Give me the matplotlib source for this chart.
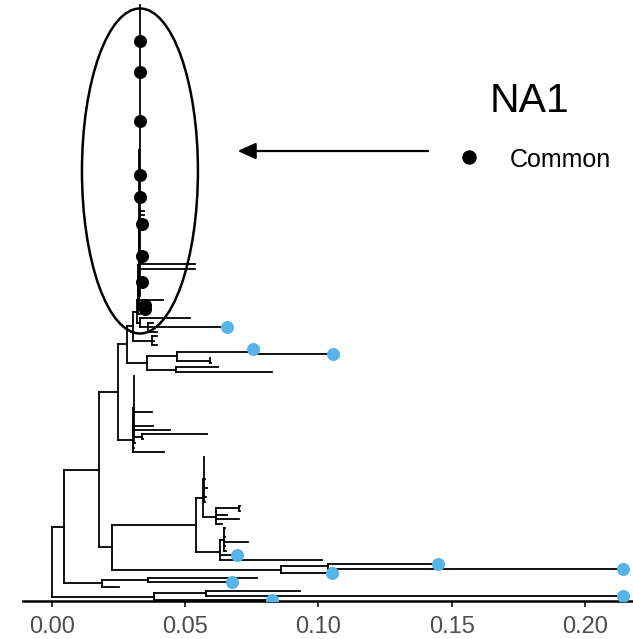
import matplotlib
matplotlib.use('Agg')
import matplotlib.pyplot as plt
from matplotlib.collections import LineCollection
from matplotlib.patches import Ellipse
from matplotlib.lines import Line2D

plt.rcParams['font.family'] = ['Liberation Sans', 'DejaVu Sans']

# NA1 tree as newick (branch lengths only), first child is drawn on top
tree_nwk = (
    "(((((((((((("
    ":0,:0,:0,:0,:0,:0,:0,:0,:0,:0,"
    ":0,:0,:0,:0,:0,:0,:0,:0,:0,:0,"
    ":0,:0,:0,:0,:0,:0,:0,:0,:0,:0,"
    ":0,:0,:0,:0,:0,:0,:0,:0,:0,:0,"
    ":0,:0,:0,:0,:0,:0,:0.0015,:0.0015,:0,:0.0006,"
    ":0,:0,:0,:0,:0,:0,:0.0006,:0,:0.0206,:0.0206,"
    ":0,:0,:0.0008,:0,:0,:0"
    "):0.0005,:0.0092):0.0001,:0.0025):0.0001,:0.0026):0.0001,:0.0008):0.0004,"
    "(:0.0188,(:0.0019,:0.0296,:0.0034):0.0030):0.0011):0.0015,"
    "(:0.0019,:0.0008,:0.0019):0.0071):0.0024,"
    "(((:0.0001,:0.0300):0.0285,(:0.0002,:0.0004):0.0124):0.0111,"
    "(:0.0158,:0.0360):0.0108):0.0077):0.0032,"
    "(((:0,:0,:0,:0,:0,:0,:0,:0,:0.0068,:0,:0,:0.0073,:0.0137,"
    "(:0.0244,:0.0005):0.0031,:0.0004):0.0001,:0.0004):0.0001,:0.0115):0.0056"
    "):0.0071,"
    "((((:0,:0,:0,:0,:0,:0.0003,:0,:0.0008,:0,:0.0005,:0.0002):0.0006,"
    "((:0.0002,:0.0003):0.0087,:0.0042,:0.0087,:0.0020):0.0050):0.0027,"
    "((:0.0004,:0.0003,:0.0005,:0.0090,:0.0004,:0.0010):0.0012,:0.0061,:0.0380):0.0093"
    "):0.0312,"
    "((:0.0413,:0.1107):0.0176,:0.0191):0.0631):0.0050):0.0131,"
    "((:0.0410,:0.0316):0.0170,:0.0063):0.0143):0.0047,"
    "((:0.0354,:0.1565):0.0193,:0.0442):0.0385);"
)

# tips counted from the top of the tree
common_tips = [8, 15, 26, 38, 43, 49, 56, 62, 67, 68]
other_tips = [72, 77, 78, 123, 125, 126, 127, 129, 132, 133]

xticks = [0.00, 0.05, 0.10, 0.15, 0.20]
legend_title = 'NA1'
legend_label = 'Common'
blue = '#56B4E9'


def parse_newick(s):
    pos = 0

    def node():
        nonlocal pos
        kids = []
        if s[pos] == '(':
            pos += 1
            kids.append(node())
            while s[pos] == ',':
                pos += 1
                kids.append(node())
            pos += 1
        start = pos
        while s[pos] not in ',);':
            pos += 1
        lab = s[start:pos]
        bl = float(lab.split(':')[1]) if ':' in lab else 0.0
        return {'kids': kids, 'bl': bl}

    return node()


def set_x(nd, x0, tips):
    nd['x'] = x0 + nd['bl']
    if not nd['kids']:
        tips.append(nd)
    for k in nd['kids']:
        set_x(k, nd['x'], tips)


def set_y(nd):
    if nd['kids']:
        nd['y'] = sum(set_y(k) for k in nd['kids']) / len(nd['kids'])
    return nd['y']


def segments(nd, segs):
    if nd['kids']:
        ys = [k['y'] for k in nd['kids']]
        segs.append([(nd['x'], min(ys)), (nd['x'], max(ys))])
        for k in nd['kids']:
            segs.append([(nd['x'], k['y']), (k['x'], k['y'])])
            segments(k, segs)


root = parse_newick(tree_nwk)
tips = []
set_x(root, 0.0, tips)
n = len(tips)
for i, t in enumerate(tips):
    t['y'] = n - i
set_y(root)
segs = []
segments(root, segs)

fig = plt.figure(figsize=(6.33, 6.39), dpi=100)
ax = fig.add_axes([23 / 633, 1 - 601 / 639, 610 / 633, 601 / 639])

ax.add_collection(LineCollection(segs, colors='black', linewidths=1.3, capstyle='projecting'))

ax.scatter([tips[k]['x'] for k in other_tips], [tips[k]['y'] for k in other_tips],
           s=88, color=blue, zorder=3, linewidths=0)
ax.scatter([tips[k]['x'] for k in common_tips], [tips[k]['y'] for k in common_tips],
           s=88, color='black', zorder=3, linewidths=0)

# circle around the common cluster
step = 595 / (n - 1)
ax.add_patch(Ellipse((0.0331, 1 + (600 - 171) / step), width=0.0435, height=325 / step,
                     fill=False, ec='black', lw=1.8, clip_on=False, zorder=4))

ax.set_xlim((23 - 51.7) / 2666, (633 - 51.7) / 2666)
ax.set_ylim(1 - 1 / step, 1 + 600 / step)
ax.set_xticks(xticks)
ax.set_xticklabels([f'{v:.2f}' for v in xticks])
ax.set_yticks([])
for sp in ['top', 'right', 'left']:
    ax.spines[sp].set_visible(False)
ax.spines['bottom'].set_linewidth(1.8)
ax.spines['bottom'].set_color('black')
ax.tick_params(axis='x', length=4.3, width=1.4, color='#333333', labelcolor='#4D4D4D',
               labelsize=17, pad=6.5)

# arrow pointing at the cluster
ax.annotate('', xy=(237.7, 639 - 151), xytext=(428, 639 - 151), xycoords='figure pixels',
            textcoords='figure pixels',
            arrowprops=dict(arrowstyle='-|>,head_length=0.55,head_width=0.25', mutation_scale=20,
                            lw=1.6, color='black', shrinkA=0, shrinkB=0))

# legend
fig.text(490 / 633, 1 - 111.7 / 639, legend_title, fontsize=29.5, va='baseline', ha='left')
fig.add_artist(Line2D([469.3 / 633], [1 - 156.7 / 639], marker='o', ms=9.4, color='black',
                      linestyle='none', transform=fig.transFigure))
fig.text(510 / 633, 1 - 166.7 / 639, legend_label, fontsize=18, va='baseline', ha='left')

fig.savefig('out.png', dpi=100)
